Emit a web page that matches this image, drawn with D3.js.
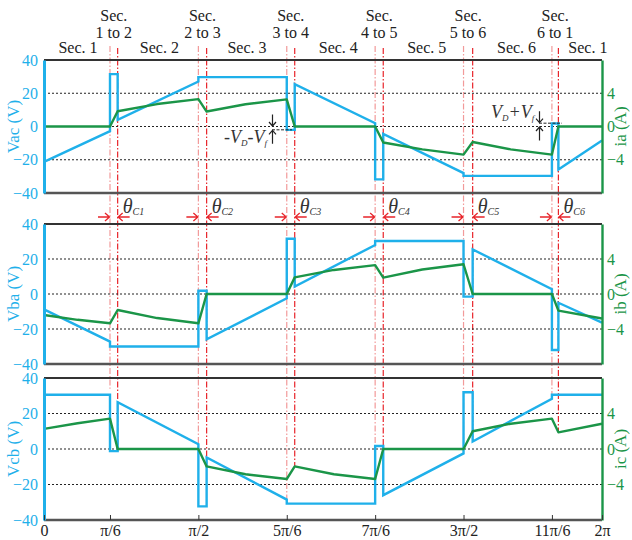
<!DOCTYPE html>
<html><head><meta charset="utf-8">
<script src="https://cdn.jsdelivr.net/npm/d3@7/dist/d3.min.js"></script>
<style>body{margin:0;background:#fff}svg{display:block}
svg text{font-family:"Liberation Serif","Times New Roman","DejaVu Serif",serif}</style>
</head><body><svg id="c" width="632" height="540"></svg>
<script>
// ---- data (angles in degrees, voltage in V, current in A) ----
const commStart = [30, 90, 150, 210, 270, 330];
const commEnd   = [35.2, 95.6, 155.4, 215.5, 276.2, 334.4];
const secLabels = ["Sec. 1","Sec. 2","Sec. 3","Sec. 4","Sec. 5","Sec. 6","Sec. 1"];
const secAngles = [8.3, 63.5, 123, 185, 245, 306, 354.4];
const transLabels = ["1 to 2","2 to 3","3 to 4","4 to 5","5 to 6","6 to 1"];
const thetaSubs = ["C1","C2","C3","C4","C5","C6"];
const xTickVals = [-14.8, 30, 90, 150, 210, 270, 330, 364];
const xTickLabels = ["0","π/6","π/2","5π/6","7π/6","3π/2","11π/6","2π"];
const vTicks = [40, 20, 0, -20, -40];
const iTicks = [4, 0, -4];
const gridVals = [20, 0, -20];

const vac = [[-14.8,-21.3],[30,-2.8],[30,31.5],[35.2,31.5],[35.2,4],[90,27],[90,29.7],[150,29.7],[150,-2],[155.4,-2],[155.4,25.5],[210,2],[210,-31.8],[215.5,-31.8],[215.5,-4.4],[270,-28],[270,-29.7],[330,-29.7],[330,1.8],[334.4,1.8],[334.4,-25.9],[364,-8.4]];
const ia  = [[-14.8,0],[30,0],[35.2,1.83],[62,2.7],[90,3.3],[95.6,1.8],[122,2.68],[150,3.26],[155.4,0],[210,0],[215.5,-1.92],[242,-2.75],[270,-3.38],[276.2,-1.87],[302,-2.75],[330,-3.38],[334.4,0],[364,0]];
const vba = [[-14.8,-8.8],[30,-27.2],[30,-30],[90,-30],[90,1.9],[95.6,1.9],[95.6,-25.9],[150,-2.5],[150,31.6],[155.4,31.6],[155.4,4.2],[210,28],[210,30.3],[270,30.3],[270,-1.5],[276.2,-1.5],[276.2,25.5],[330,2.7],[330,-32],[334.4,-32],[334.4,-5],[364,-16.4]];
const ib  = [[-14.8,-2.4],[8,-2.95],[30,-3.35],[35.2,-1.83],[62,-2.75],[90,-3.35],[95.6,0],[150,0],[155.4,1.9],[182,2.75],[210,3.3],[215.5,1.87],[242,2.8],[270,3.4],[276.2,0],[330,0],[334.4,-1.9],[364,-2.8]];
const vcb = [[-14.8,30.6],[30,30.6],[30,-1.2],[35.2,-1.2],[35.2,26.4],[90,2.7],[90,-32.3],[95.6,-32.3],[95.6,-4.8],[150,-28.5],[150,-30.8],[210,-30.8],[210,1.7],[215.5,1.7],[215.5,-26],[270,-2.5],[270,32],[276.2,32],[276.2,4.2],[330,28.3],[330,30.6],[364,30.6]];
const ic  = [[-14.8,2.27],[8,2.9],[30,3.42],[35.2,0],[90,0],[95.6,-1.96],[122,-2.85],[150,-3.38],[155.4,-1.96],[182,-2.85],[210,-3.38],[215.5,0],[270,0],[276.2,2],[302,2.85],[330,3.42],[334.4,1.88],[364,2.85]];
// red line end levels in bottom panel (V)
const redEndStart = [34, 2.5, -28.5, 2, -1, 29];
const redEndEnd   = [0, -10, -10, 0, 4, 10];

// ---- drawing ----
const BLUE = "#1fb0ea", GREEN = "#1b9548", RED = "#e8252b", PINK = "#f29a9a";
const FONT = "Liberation Serif, Times New Roman, DejaVu Serif, serif";
const svg = d3.select("#c");
const x = d3.scaleLinear().domain([-14.8, 364]).range([44, 602]);

const panels = [
  {top:60, bottom:193, vName:"Vac (V)", iName:"ia (A)", v:vac, i:ia},
  {top:224, bottom:364, vName:"Vba (V)", iName:"ib (A)", v:vba, i:ib},
  {top:378, bottom:520, vName:"Vcb (V)", iName:"ic (A)", v:vcb, i:ic}
];
panels.forEach(p => {
  p.yV = d3.scaleLinear().domain([-40,40]).range([p.bottom, p.top]);
  p.yI = d3.scaleLinear().domain([-8,8]).range([p.bottom, p.top]);
});
const P3 = panels[2];

const gRed = svg.append("g");
commStart.forEach((a,k) => {
  gRed.append("line").attr("x1",x(a)).attr("x2",x(a)).attr("y1",46).attr("y2",P3.yV(redEndStart[k]))
    .attr("stroke",PINK).attr("stroke-width",1.2).attr("stroke-dasharray","6,2,1.5,2");
});
commEnd.forEach((a,k) => {
  gRed.append("line").attr("x1",x(a)).attr("x2",x(a)).attr("y1",48).attr("y2",P3.yV(redEndEnd[k]))
    .attr("stroke",RED).attr("stroke-width",1.2).attr("stroke-dasharray","6,2,1.5,2");
});

panels.forEach((p, pi) => {
  const g = svg.append("g");
  gridVals.forEach(v => {
    g.append("line").attr("x1",44).attr("x2",602).attr("y1",p.yV(v)).attr("y2",p.yV(v))
      .attr("stroke","#222").attr("stroke-width",1).attr("stroke-dasharray","2,2");
  });
  const lineV = d3.line().x(d=>x(d[0])).y(d=>p.yV(d[1]));
  const lineI = d3.line().x(d=>x(d[0])).y(d=>p.yI(d[1]));
  g.append("path").attr("d",lineV(p.v)).attr("fill","none").attr("stroke",BLUE).attr("stroke-width",2.4).attr("stroke-linejoin","miter");
  g.append("path").attr("d",lineI(p.i)).attr("fill","none").attr("stroke",GREEN).attr("stroke-width",2.4).attr("stroke-linejoin","round");
  g.append("line").attr("x1",44).attr("x2",602).attr("y1",p.top).attr("y2",p.top).attr("stroke","#333").attr("stroke-width",1.8);
  g.append("line").attr("x1",44).attr("x2",602).attr("y1",p.bottom).attr("y2",p.bottom).attr("stroke","#555").attr("stroke-width",2.4);
  const ax = g.append("g").attr("transform","translate(44,0)")
    .call(d3.axisLeft(p.yV).tickValues(vTicks).tickSize(0).tickPadding(6).tickFormat(d3.format("d")));
  ax.attr("font-family",FONT).attr("font-size",16);
  ax.select(".domain").attr("stroke",BLUE).attr("stroke-width",3);
  ax.selectAll("text").attr("fill",BLUE);
  const axr = g.append("g").attr("transform","translate(602,0)")
    .call(d3.axisRight(p.yI).tickValues(iTicks).tickSize(0).tickPadding(5).tickFormat(d3.format("d")));
  axr.attr("font-family",FONT).attr("font-size",16);
  axr.select(".domain").attr("stroke",GREEN).attr("stroke-width",2.4);
  axr.selectAll("text").attr("fill",GREEN);
  const cy = (p.top+p.bottom)/2;
  g.append("text").attr("transform",`translate(19,${cy}) rotate(-90)`).attr("text-anchor","middle")
    .attr("fill",BLUE).attr("font-family",FONT).attr("font-size",17).text(p.vName);
  g.append("text").attr("transform",`translate(626,${cy}) rotate(-90)`).attr("text-anchor","middle")
    .attr("fill",GREEN).attr("font-family",FONT).attr("font-size",17).text(p.iName);
});

const axb = svg.append("g").attr("transform",`translate(0,${P3.bottom})`)
  .call(d3.axisBottom(x).tickValues(xTickVals).tickSize(-5).tickPadding(5).tickFormat((d,k)=>xTickLabels[k]));
axb.attr("font-family",FONT).attr("font-size",16);
axb.select(".domain").remove();
axb.selectAll("line").attr("stroke","#333");
axb.selectAll("text").attr("fill","#222");

const gTop = svg.append("g").attr("font-family",FONT).attr("font-size",16).attr("fill","#222").attr("text-anchor","middle");
secLabels.forEach((s,k) => gTop.append("text").attr("x",x(secAngles[k])).attr("y",53).text(s));
transLabels.forEach((s,k) => {
  const cx = x((commStart[k]+commEnd[k])/2);
  gTop.append("text").attr("x",cx).attr("y",21).text("Sec.");
  gTop.append("text").attr("x",cx).attr("y",38).text(s);
});

const ya = 217;
commStart.forEach((a,k) => {
  const x0 = x(a), x1 = x(commEnd[k]);
  const gA = svg.append("g").attr("stroke",RED).attr("stroke-width",1.3).attr("fill","none");
  gA.append("path").attr("d",`M${x0-12},${ya}H${x0-0.5}M${x0-5},${ya-4}L${x0-0.5},${ya}L${x0-5},${ya+4}`);
  gA.append("path").attr("d",`M${x1+12},${ya}H${x1+0.5}M${x1+5},${ya-4}L${x1+0.5},${ya}L${x1+5},${ya+4}`);
  const t = svg.append("text").attr("x",x1+5).attr("y",213).attr("fill","#333")
    .attr("font-family",FONT).attr("font-style","italic");
  t.append("tspan").attr("font-size",20).text("θ");
  t.append("tspan").attr("font-size",10).attr("dy",2).text(thetaSubs[k]);
});

const P1 = panels[0];
function vArrows(xa, yTopLevel, yBotLevel) {
  const y1 = P1.yV(yTopLevel), y2 = P1.yV(yBotLevel);
  const gA = svg.append("g").attr("stroke","#222").attr("stroke-width",1.2).attr("fill","none");
  gA.append("path").attr("d",`M${xa},${y1-12}V${y1-0.5}M${xa-3.5},${y1-4.5}L${xa},${y1-0.5}L${xa+3.5},${y1-4.5}`);
  gA.append("path").attr("d",`M${xa},${y2+14}V${y2+0.5}M${xa-3.5},${y2+4.5}L${xa},${y2+0.5}L${xa+3.5},${y2+4.5}`);
}
vArrows(272.5, 0, -2);
svg.append("line").attr("x1",272).attr("x2",292).attr("y1",P1.yV(-2)).attr("y2",P1.yV(-2))
  .attr("stroke","#222").attr("stroke-width",1).attr("stroke-dasharray","3,1.5");
const t1 = svg.append("text").attr("x",224).attr("y",143).attr("fill","#333").attr("font-family",FONT).attr("font-style","italic").attr("font-size",18);
t1.append("tspan").text("-V");
t1.append("tspan").attr("font-size",9).attr("dy",3).text("D");
t1.append("tspan").attr("dy",-3).text("-V");
t1.append("tspan").attr("font-size",9).attr("dy",3).text("f");
vArrows(539.5, 2, 0);
svg.append("line").attr("x1",539).attr("x2",562).attr("y1",P1.yV(2)).attr("y2",P1.yV(2))
  .attr("stroke","#222").attr("stroke-width",1).attr("stroke-dasharray","3,1.5");
const t2 = svg.append("text").attr("x",491).attr("y",118).attr("fill","#333").attr("font-family",FONT).attr("font-style","italic").attr("font-size",18);
t2.append("tspan").text("V");
t2.append("tspan").attr("font-size",9).attr("dy",3).text("D");
t2.append("tspan").attr("dy",-3).text("+V");
t2.append("tspan").attr("font-size",9).attr("dy",3).text("f");
</script></body></html>
